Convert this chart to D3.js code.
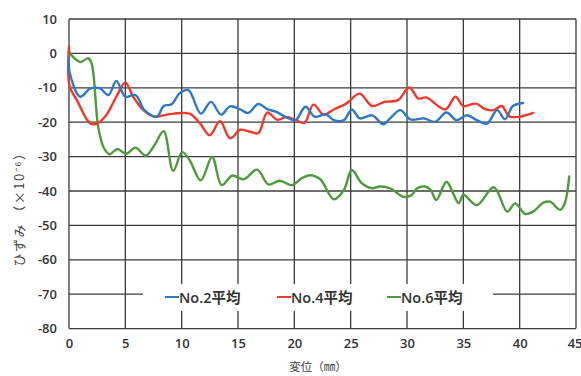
<!DOCTYPE html>
<html><head><meta charset="utf-8">
<script src="https://cdn.jsdelivr.net/npm/d3@7"></script>
<style>body{margin:0;background:#fff;}svg{display:block;}</style>
</head><body>
<script>
const xTicks = [0,5,10,15,20,25,30,35,40,45];
const yTicks = [10,0,-10,-20,-30,-40,-50,-60,-70,-80];
const seriesNames = ["No.2平均","No.4平均","No.6平均"];
const seriesColors = ["#2f78c4","#ee3a2c","#4e9a3c"];

const no2X = [0,0.05,1,1.9,2.75,3.5,4.2,5,5.9,6.7,7.8,8.4,9.1,9.85,10.6,11.7,12.6,13.5,14.3,15.2,15.9,16.8,17.6,18.4,19.3,20.1,21,21.8,22.8,23.5,24.4,25.1,25.8,26.9,27.9,28.5,29.4,30.3,31.5,32.5,33.5,34.4,35.3,36.2,37.1,38,38.7,39.4,40.3];
const no2Y = [-1,-5.5,-12.6,-10.2,-10.2,-12.1,-8,-12.6,-12.1,-16.5,-18.4,-15.3,-14.8,-11.5,-10.7,-17.5,-14.1,-17.8,-15.4,-16.3,-17.3,-14.7,-16.2,-17,-18.6,-19.4,-15.5,-18.4,-17.7,-19.4,-19.4,-16.3,-18.9,-18,-20.6,-18.9,-16.5,-19.2,-18.9,-19.9,-17.2,-19.4,-18,-19.4,-20.4,-16.5,-19.1,-15.3,-14.4];

const no4X = [0,0.05,0.7,1.9,2.5,3.3,4.2,5,5.7,6.6,7.6,8.4,9.3,10.7,11.6,12.5,13.4,14.3,15.2,16,16.8,17.6,18.5,19.3,20.2,20.9,21.7,22.6,23.5,24.6,25.8,26.9,28,29.2,30.2,31,31.7,33.4,34.3,35,36.1,37,37.7,38.4,39.1,40,41.2];
const no4Y = [2,-9.5,-13.6,-20.4,-20.4,-18,-12.6,-8.5,-12.6,-16.5,-18.4,-18,-17.5,-17.5,-20.2,-23.8,-19.7,-24.7,-22.2,-22.7,-23.2,-17.2,-19.3,-18.5,-19.5,-20.2,-14.9,-17.8,-16.3,-14.6,-11.7,-15.3,-14.1,-13.6,-9.9,-13.1,-12.8,-16.3,-12.6,-15.3,-14.6,-16.3,-16.5,-15.3,-18.3,-18.4,-17.3];

const no6X = [0,0.1,1,1.7,2,2.6,3.1,3.6,4.3,5.05,5.9,6.8,7.6,8.4,9.25,10.05,10.7,11.7,12.7,13.55,14.5,15.5,16.7,17.7,18.7,19.8,20.6,21.4,22.3,23.5,24.4,25.1,26,26.9,27.6,28.5,29.7,30.4,30.9,31.6,32.1,32.6,33.5,34.1,34.6,35,36.2,37.7,38.9,39.6,40.5,41.2,42.1,42.7,43.6,44,44.4];
const no6Y = [1,0,-2.5,-1.4,-2.8,-21.5,-27.5,-29.3,-27.8,-29.2,-27.4,-29.7,-26.6,-22.6,-34.1,-28.7,-31,-36.9,-30.1,-38.3,-35.5,-36.6,-33.8,-38.1,-37,-38.3,-36.4,-35.4,-36.6,-42.4,-39.7,-33.9,-37.8,-39.2,-38.7,-39.2,-41.7,-41.2,-39.2,-38.7,-39.7,-42.6,-37.3,-40.7,-43.6,-41.1,-44.1,-38.9,-46,-43.6,-46.7,-46,-43.4,-43.1,-45.5,-43.6,-35.8];

const W = 581, H = 376;
const svg = d3.select("body").append("svg").attr("width", W).attr("height", H);
const x = d3.scaleLinear().domain([0,45]).range([69,576]);
const y = d3.scaleLinear().domain([-80,10]).range([328.6,19]);
const gridColor = "#3c3c3c";
const font = "'Open Sans', 'Noto Sans CJK JP', sans-serif";

// grid
svg.append("g").selectAll("line.h").data(yTicks).join("line")
  .attr("x1", x(0)).attr("x2", x(45)).attr("y1", d => y(d)).attr("y2", d => y(d))
  .attr("stroke", gridColor).attr("stroke-width", 1.3);
svg.append("g").selectAll("line.v").data(xTicks).join("line")
  .attr("y1", y(10)).attr("y2", y(-80)).attr("x1", d => x(d)).attr("x2", d => x(d))
  .attr("stroke", gridColor).attr("stroke-width", 1.3);

// axes labels via d3 axes
const yAxis = svg.append("g").attr("transform", `translate(${x(0)},0)`)
  .call(d3.axisLeft(y).tickValues(yTicks).tickFormat(d => String(d)).tickSize(0).tickPadding(12));
yAxis.select(".domain").remove();
yAxis.selectAll("text").attr("font-family", font).attr("font-size", 13).attr("font-weight", 600).attr("fill", "#333");

const xAxis = svg.append("g").attr("transform", `translate(0,${y(-80)})`)
  .call(d3.axisBottom(x).tickValues(xTicks).tickFormat(d => String(d)).tickSize(0).tickPadding(10));
xAxis.select(".domain").remove();
xAxis.selectAll("text").attr("font-family", font).attr("font-size", 13).attr("font-weight", 600).attr("fill", "#333");
xAxis.selectAll("text").filter(d => d === 45).attr("text-anchor", "end").attr("dx", 6);

// series
const series = [
  {xs: no2X, ys: no2Y},
  {xs: no4X, ys: no4Y},
  {xs: no6X, ys: no6Y}
];
const line = d3.line().x(d => x(d[0])).y(d => y(d[1])).curve(d3.curveCatmullRom.alpha(0.5));
[2,1,0].forEach(i => {
  const s = series[i];
  const pts = s.xs.map((v, j) => [v, s.ys[j]]);
  svg.append("path").datum(pts).attr("d", line)
    .attr("fill", "none").attr("stroke", seriesColors[i]).attr("stroke-width", 2.4)
    .attr("stroke-linejoin", "round").attr("stroke-linecap", "round");
});

// legend
svg.append("rect").attr("x", 143).attr("y", 284).attr("width", 350).attr("height", 27).attr("fill", "#fff");
const legX = [165, 277, 387];
seriesNames.forEach((n, i) => {
  const g = svg.append("g");
  g.append("line").attr("x1", legX[i]).attr("x2", legX[i] + 14).attr("y1", 297).attr("y2", 297)
    .attr("stroke", seriesColors[i]).attr("stroke-width", 2);
  g.append("text").attr("x", legX[i] + 14).attr("y", 302.5).text(n)
    .attr("font-family", font).attr("font-size", 14.5).attr("font-weight", 600).attr("fill", "#333");
});

// axis titles
svg.append("text").attr("x", 318).attr("y", 371).attr("text-anchor", "middle")
  .attr("font-family", "'Noto Sans CJK JP', sans-serif").attr("font-size", 11.5).attr("fill", "#444")
  .text("変位（㎜）");
svg.append("text").attr("transform", "translate(24,206) rotate(-90)").attr("text-anchor", "middle")
  .attr("font-family", "'Noto Sans CJK JP', sans-serif").attr("font-size", 13).attr("letter-spacing", 1.5).attr("fill", "#444")
  .text("ひずみ （×10⁻⁶）");
</script>
</body></html>
